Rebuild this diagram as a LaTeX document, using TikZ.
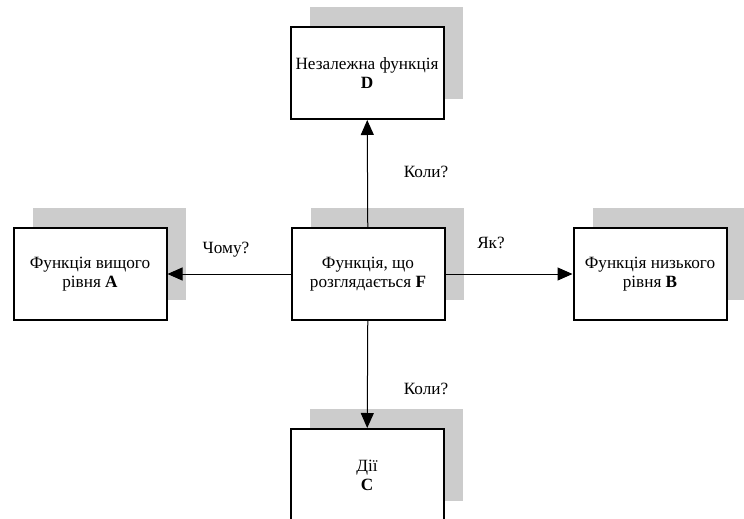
\documentclass[tikz,border=0pt]{standalone}
\usepackage{fontspec}
\setmainfont{Liberation Serif}
\usetikzlibrary{arrows.meta,shadows}
\definecolor{shadowgray}{HTML}{CCCCCC}
\begin{document}
\begin{tikzpicture}[x=1pt, y=-1pt,
    fn/.style={draw, line width=2pt, fill=white, minimum width=153pt, minimum height=92pt,
        align=center, font=\fontsize{17.2}{19}\selectfont,
        drop shadow={shadow xshift=19pt, shadow yshift=20pt, shadow scale=1,
            fill=shadowgray, opacity=1, rounded corners=1pt}},
    arr/.style={-{Triangle[length=15pt, width=13pt]}, line width=1pt},
    lbl/.style={font=\fontsize{17.2}{19}\selectfont}]
    \useasboundingbox (0,0) rectangle (744,519);

    % functions
    \node[fn] (F) at (368,274) {Функція, що\\розглядається \textbf{F}};
    \node[fn] (D) at (367,73) {Незалежна функція\\\textbf{D}};
    \node[fn] (A) at (90,274) {Функція вищого\\рівня \textbf{A}};
    \node[fn] (B) at (650,274) {Функція низького\\рівня \textbf{B}};
    \node[fn] (C) at (367,475) {Дії\\\textbf{C}};

    % connections
    \draw[arr] (F) -- (D);
    \draw[arr] (F) -- (A);
    \draw[arr] (F) -- (B);
    \draw[arr] (F) -- (C);

    % questions
    \node[lbl] (whenUp) at (426,172) {Коли?};
    \node[lbl] (why) at (226,250) {Чому?};
    \node[lbl] (how) at (491,243) {Як?};
    \node[lbl] (whenDown) at (426,389) {Коли?};
\end{tikzpicture}
\end{document}
